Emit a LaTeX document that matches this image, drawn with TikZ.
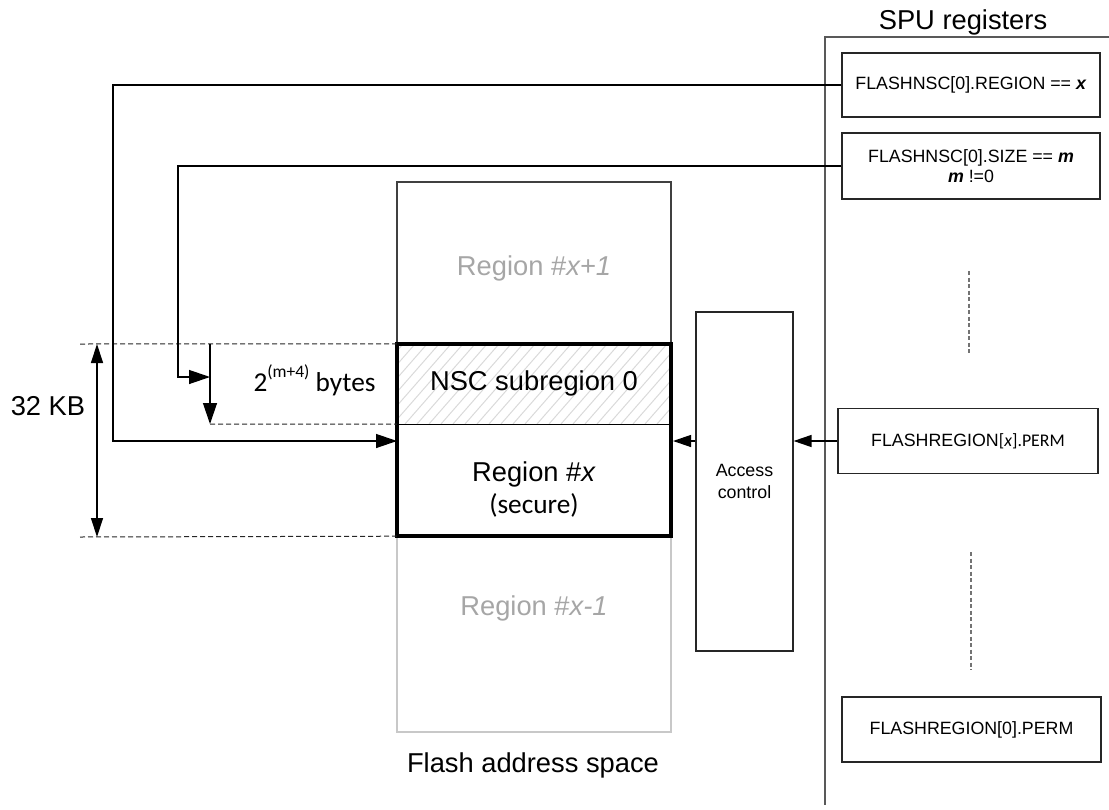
\documentclass[tikz,border=0pt]{standalone}
\usepackage{fontspec}
\setmainfont{Liberation Sans}
\newfontfamily\calib{Carlito}
\usetikzlibrary{arrows.meta}
\definecolor{lightgrey}{HTML}{C8C8C8}
\definecolor{txtgrey}{HTML}{A6A6A6}
\definecolor{hatch}{HTML}{D9D9D9}
\begin{document}
\begin{tikzpicture}[x=1pt,y=-1pt,
  bigf/.style={font=\fontsize{27.3}{32}\selectfont},
  smallf/.style={font=\fontsize{17.8}{22}\selectfont},
  regbox/.style={draw=black!85, line width=1.2pt, minimum width=258pt, minimum height=65pt, inner sep=0pt, smallf, align=center},
  flashbox/.style={minimum width=274pt, inner sep=0pt},
  conn/.style={line width=1.3pt},
  bigtip/.style={-{Triangle[length=21pt,width=14pt]}},
  midtip/.style={-{Triangle[length=18pt,width=12pt]}},
  dimline/.style={line width=1pt, black!85, dash pattern=on 5pt off 3pt},
  dotline/.style={line width=1.3pt, black!55, dash pattern=on 4pt off 2.5pt}
]
\useasboundingbox (0,0) rectangle (1109,809);

% SPU frame
\node[bigf] (spulbl) at (963,22) {SPU registers};
\coordinate (frtr) at (1109,37);
\coordinate (frtl) at (825,37);
\coordinate (frbl) at (825,805);
\draw[line width=1.2pt, black!65] (frtr) -- (frtl) -- (frbl);

% register boxes
\node[regbox, minimum height=64pt] (nscreg) at (971,85) {FLASHNSC[0].REGION == \textbf{\textit{x}}};
\node[regbox, minimum height=66pt] (nscsize) at (971,166) {FLASHNSC[0].SIZE == \textbf{\textit{m}}\\[-2pt]\textbf{\textit{m}} !=0};
\node[regbox, minimum width=260pt] (permx) at (968,441) {FLASHREGION{\calib[\textit{x}].PERM}};
\node[regbox, minimum width=259pt] (perm0) at (971.5,729.5) {FLASHREGION[0].PERM};

% dotted continuation lines
\coordinate (d1a) at (969,271); \coordinate (d1b) at (969,355);
\coordinate (d2a) at (971,552); \coordinate (d2b) at (971,670);
\draw[dotline] (d1a) -- (d1b);
\draw[dotline] (d2a) -- (d2b);

% access control
\node[draw=black!85, line width=1.2pt, minimum width=97pt, minimum height=339pt, inner sep=0pt] (acc) at (744.5,481.5) {};
\node[smallf, align=center] (acclbl) at (744.5,481.5) {Access\\[0pt]control};

% flash regions
\node[flashbox, draw=black!75, line width=1.2pt, minimum height=162pt] (rxp1) at (534,263) {};
\node[bigf, text=txtgrey] (rxp1lbl) at (534,268) {Region \#\textit{x+1}};

\node[flashbox, draw=lightgrey, line width=1.6pt, minimum height=195pt] (rxm1) at (534,634.5) {};
\node[bigf, text=txtgrey] (rxm1lbl) at (534,608) {Region \#\textit{x-1}};

\node[flashbox, minimum height=80pt] (nsc) at (534,384) {};
\begin{scope}
  \clip (nsc.north west) rectangle (nsc.south east);
  \foreach \i in {-100,-88,...,300} {
    \draw[hatch, line width=1pt] (397+\i,424) -- ++(70,-80);
  }
\end{scope}
\node[flashbox, minimum height=112pt] (rx) at (534,480) {};
\draw[line width=1.2pt] (nsc.south west) -- (nsc.south east);
\draw[line width=4pt] (nsc.north west) rectangle (rx.south east);

\node[bigf] (nsclbl) at (534,383) {NSC subregion 0};
\node[bigf, align=center] (rxlbl) at (534,489) {Region \#\textit{x}\\[0pt]{\calib (secure)}};

\node[bigf] (flbl) at (533,765) {Flash address space};

% dimension lines
\coordinate (dtop) at (80,344);
\coordinate (dbot) at (80,537);
\coordinate (dmid) at (210,424);
\draw[dimline] (dtop) -- (nsc.north west);
\draw[dimline] (dbot) -- (rx.south west);
\draw[dimline] (dmid) -- (nsc.south west);

\coordinate (kbtop) at (97,344);
\coordinate (kbbot) at (97,537);
\draw[conn, {Triangle[length=19pt,width=12pt]}-{Triangle[length=19pt,width=12pt]}] (kbtop) -- (kbbot);
\node[bigf] (kblbl) at (48,406) {32 KB};

% size connector
\coordinate (szcorner) at (178,166);
\coordinate (sztip) at (210,377);
\coordinate (sztop) at (210,344);
\draw[conn, bigtip] (nscsize.west) -- (szcorner) |- (sztip);
\draw[conn, bigtip] (sztop) -- (dmid);
\node[bigf, anchor=west] (byteslbl) at (250,380) {{\calib 2\raisebox{0.5em}{\fontsize{17.5}{17.5}\selectfont (m+4)} bytes}};

% region connector
\coordinate (rgcorner) at (113,85);
\coordinate (rgtip) at (397,441);
\draw[conn, bigtip] (nscreg.west) -- (rgcorner) |- (rgtip);

% access control arrows
\draw[conn, midtip] (permx.west) -- (acc.east |- permx.west);
\draw[conn, midtip] (acc.west |- permx.west) -- (673,441);
\end{tikzpicture}
\end{document}
